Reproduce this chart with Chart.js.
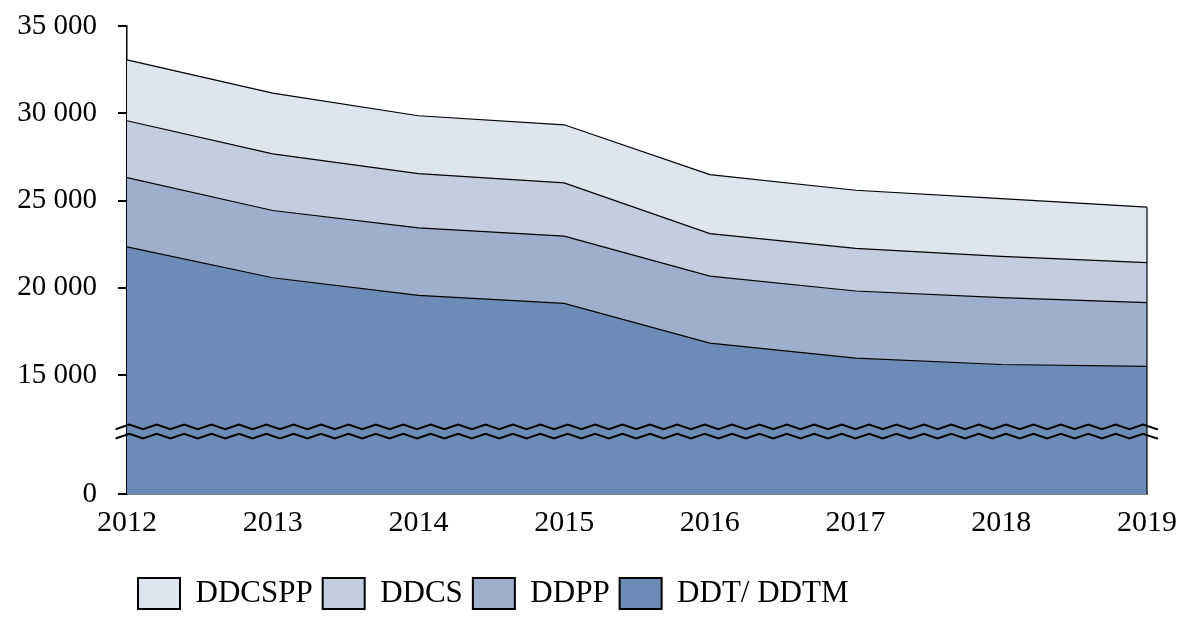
<!DOCTYPE html>
<html lang="fr">
<head>
    <meta charset="UTF-8">
    <title>DDT / DDTM effectifs</title>
    <script src="https://cdn.jsdelivr.net/npm/chart.js"></script>
    <style>
        body { margin: 0; background: #fff; }
    </style>
</head>
<body>
<canvas id="areaChart" width="1196" height="628"></canvas>

<script>
    // data
    const years = ['2012', '2013', '2014', '2015', '2016', '2017', '2018', '2019'];
    const ddt = [22350, 20580, 19570, 19110, 16830, 15970, 15610, 15500];
    const ddpp = [3960, 3850, 3870, 3850, 3840, 3850, 3830, 3650];
    const ddcs = [3260, 3240, 3100, 3050, 2440, 2440, 2360, 2290];
    const ddcspp = [3490, 3480, 3320, 3330, 3380, 3330, 3310, 3180];
    const yTicks = [0, 15000, 20000, 25000, 30000, 35000];

    // axis is cut between 0 and 15 000
    const BREAK_AT = 15000;
    const LOW_SHARE = 0.254; // part of the height given to 0..15 000

    class BrokenScale extends Chart.LinearScale {
        static id = 'broken';
        getPixelForValue(value) {
            if (value === null || isNaN(value)) return NaN;
            let d;
            if (value <= BREAK_AT) d = value / BREAK_AT * LOW_SHARE;
            else d = LOW_SHARE + (1 - LOW_SHARE) * (value - BREAK_AT) / (this.max - BREAK_AT);
            return this.getPixelForDecimal(d);
        }
        getValueForPixel(pixel) {
            const d = this.getDecimalForPixel(pixel);
            if (d <= LOW_SHARE) return d / LOW_SHARE * BREAK_AT;
            return BREAK_AT + (d - LOW_SHARE) / (1 - LOW_SHARE) * (this.max - BREAK_AT);
        }
    }
    Chart.register(BrokenScale);

    const fmt = v => String(v).replace(/\B(?=(\d{3})+(?!\d))/g, ' ');

    // right edge of the stack + two zigzag lines marking the cut
    const breakMarks = {
        id: 'breakMarks',
        afterDraw(chart) {
            const ctx = chart.ctx;
            const y = chart.scales.y;
            const { left, right } = chart.chartArea;
            ctx.save();
            ctx.strokeStyle = '#000';

            const topMeta = chart.getDatasetMeta(chart.data.datasets.length - 1);
            const last = topMeta.data[topMeta.data.length - 1];
            ctx.lineWidth = 1.2;
            ctx.beginPath();
            ctx.moveTo(last.x, last.y);
            ctx.lineTo(last.x, y.getPixelForValue(0));
            ctx.stroke();

            const mid = (y.getPixelForValue(0) + y.getPixelForValue(BREAK_AT)) / 2 - 3;
            const half = 13.7, amp = 2.3;
            const x0 = left + 2.3 - half, x1 = right + 11;
            ctx.lineWidth = 2;
            [mid - 4.6, mid + 4.6].forEach(yc => {
                ctx.beginPath();
                let k = 0;
                for (let x = x0; ; x += half, k++) {
                    const yy = yc + (k % 2 === 0 ? amp : -amp);
                    if (x >= x1) {
                        const py = yc + (k % 2 === 0 ? -amp : amp);
                        const t = (x1 - (x - half)) / half;
                        ctx.lineTo(x1, py + (yy - py) * t);
                        break;
                    }
                    if (k === 0) ctx.moveTo(x, yy); else ctx.lineTo(x, yy);
                }
                ctx.stroke();
            });
            ctx.restore();
        }
    };

    // legend sits under the plot, starting near the axis
    const legendShift = {
        id: 'legendShift',
        afterLayout(chart) {
            const lg = chart.legend;
            lg.left += 128; lg.right += 128;
            lg.top += 24; lg.bottom += 24;
        }
    };

    const serif = 'Liberation Serif';
    const line = { borderColor: '#000', borderWidth: 1.2, pointRadius: 0, tension: 0 };

    new Chart(document.getElementById('areaChart'), {
        type: 'line',
        data: {
            labels: years,
            datasets: [
                { label: 'DDT/ DDTM', data: ddt, backgroundColor: '#6c8bb7', fill: 'origin', ...line },
                { label: 'DDPP', data: ddpp, backgroundColor: '#9dafcc', fill: '-1', ...line },
                { label: 'DDCS', data: ddcs, backgroundColor: '#c3cde0', fill: '-1', ...line },
                { label: 'DDCSPP', data: ddcspp, backgroundColor: '#dfe5ef', fill: '-1', ...line }
            ]
        },
        options: {
            responsive: false,
            animation: false,
            layout: { padding: { top: 0, right: 49, left: 0, bottom: 33 } },
            plugins: {
                tooltip: { enabled: false },
                legend: {
                    position: 'bottom',
                    align: 'start',
                    reverse: true,
                    labels: {
                        color: '#000',
                        font: { family: serif, size: 31 },
                        boxWidth: 42,
                        boxHeight: 31,
                        padding: 10,
                        generateLabels(chart) {
                            return Chart.defaults.plugins.legend.labels.generateLabels(chart)
                                .map(l => ({ ...l, lineWidth: 2, strokeStyle: '#000' }));
                        }
                    }
                }
            },
            scales: {
                x: {
                    offset: false,
                    z: 1,
                    grid: { display: false },
                    border: { display: true, color: '#000', width: 1.5 },
                    ticks: { color: '#000', font: { family: serif, size: 30 }, padding: 3, maxRotation: 0 }
                },
                y: {
                    type: 'broken',
                    stacked: true,
                    min: 0,
                    max: 35000,
                    z: 1,
                    afterBuildTicks: axis => { axis.ticks = yTicks.map(v => ({ value: v })); },
                    afterFit: axis => { axis.paddingTop = 26; axis.width = 127; },
                    grid: { drawOnChartArea: false, drawTicks: true, tickLength: 9, color: '#000', lineWidth: 2 },
                    border: { display: true, color: '#000', width: 1.5 },
                    ticks: { color: '#000', font: { family: serif, size: 29 }, padding: 21, callback: v => fmt(v) }
                }
            }
        },
        plugins: [breakMarks, legendShift]
    });
</script>
</body>
</html>
